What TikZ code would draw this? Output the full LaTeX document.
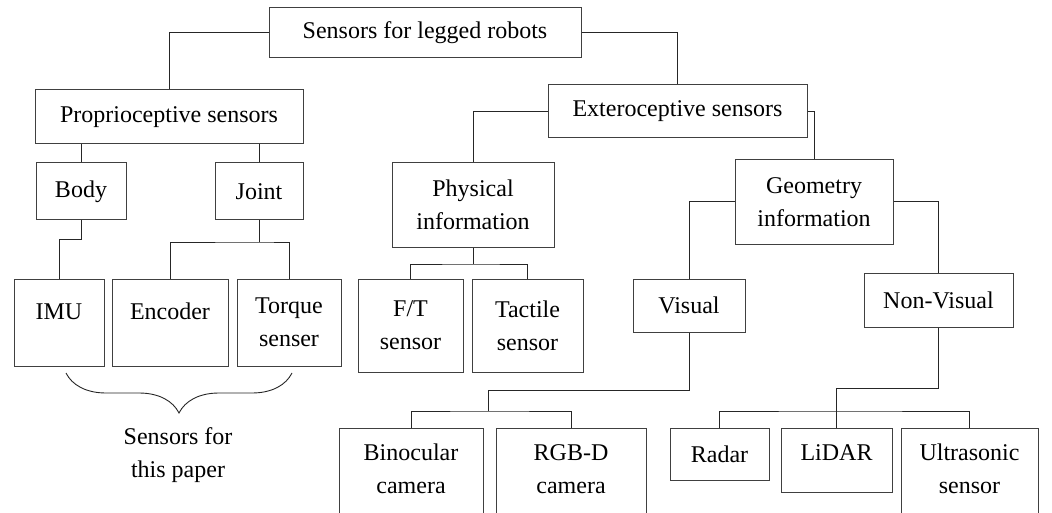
\documentclass[tikz,border=0pt]{standalone}
\usepackage{fontspec}
\setmainfont{Liberation Serif}
\usepackage{tikz}
\usetikzlibrary{decorations.pathreplacing}

\begin{document}
\begin{tikzpicture}[
  x=1pt, y=-1pt,
  font=\fontsize{24pt}{33pt}\selectfont,
  box/.style={draw=black!75, line width=1pt, align=center, inner sep=0pt},
  link/.style={draw=black!85, line width=1pt},
  brace/.style={decorate, decoration={brace, mirror, amplitude=40pt}, draw=black!85, line width=0.9pt}
]
\useasboundingbox (0,0) rectangle (1052,513);

\node[box, minimum width=312pt, minimum height=50pt] (root) at (425,33) {Sensors for legged robots};
\node[box, minimum width=268pt, minimum height=54pt] (prop) at (169,117) {Proprioceptive sensors};
\node[box, minimum width=259pt, minimum height=53pt] (ext) at (677.5,111.5) {Exteroceptive sensors};

\node[box, minimum width=90pt, minimum height=57pt] (body) at (81,191.5) {Body};
\node[box, minimum width=88pt, minimum height=57pt] (joint) at (259,191.5) {Joint};
\node[box, minimum width=162pt, minimum height=84pt] (phys) at (473,205) {Physical\\information};
\node[box, minimum width=158pt, minimum height=84pt] (geom) at (814,202) {Geometry\\information};

\node[box, anchor=north, minimum width=90pt, text height=40pt, text depth=47pt] (imu) at (59,279) {IMU};
\node[box, anchor=north, minimum width=116pt, text height=40pt, text depth=47pt] (enc) at (170,279) {Encoder};
\node[box, minimum width=104pt, minimum height=87pt] (torque) at (289,322.5) {Torque\\senser};
\node[box, minimum width=105pt, minimum height=93pt] (ft) at (410.5,325.5) {F/T\\sensor};
\node[box, minimum width=111pt, minimum height=93pt] (tact) at (527.5,325.5) {Tactile\\sensor};
\node[box, minimum width=112pt, minimum height=53pt] (vis) at (689,305.5) {Visual};
\node[box, minimum width=149pt, minimum height=54pt] (nonvis) at (938.5,300) {Non-Visual};

\node[box, anchor=north, text width=144pt, text height=32pt, text depth=120pt] (bino) at (411,428) {Binocular\\camera};
\node[box, anchor=north, text width=150pt, text height=32pt, text depth=120pt] (rgbd) at (571,428) {RGB-D\\camera};
\node[box, minimum width=99pt, minimum height=52pt] (radar) at (719.5,454) {Radar};
\node[box, anchor=north, minimum width=111pt, text height=32pt, text depth=32pt] (lidar) at (836.5,428) {LiDAR};
\node[box, anchor=north, text width=137pt, text height=32pt, text depth=120pt] (ultra) at (969.5,428) {Ultrasonic\\sensor};

\node[align=center] (note) at (178,455) {Sensors for\\this paper};

\coordinate (jbus) at (259,242);
\coordinate (pbus) at (473,264);
\coordinate (visbus) at (488,411);
\coordinate (nvbus) at (836.5,411);

\draw[link] (root.west) -| (prop.north);
\draw[link] (root.east) -| (ext.north);
\draw[link] (body.north) -- (body.north |- prop.south);
\draw[link] (joint.north) -- (joint.north |- prop.south);
\draw[link] (body.south) -- ++(0,19) -| (imu.north);
\draw[link] (joint.south) -- (jbus);
\draw[link] (enc.north) |- (jbus) -| (torque.north);
\draw[link] (ext.west) -| (phys.north);
\draw[link] (ext.east) -| (geom.north);
\draw[link] (phys.south) -- (pbus);
\draw[link] (ft.north) |- (pbus) -| (tact.north);
\draw[link] (geom.west) -| (vis.north);
\draw[link] (geom.east) -| (nonvis.north);
\draw[link] (vis.south) -- ++(0,58) -| (visbus);
\draw[link] (bino.north) |- (visbus) -| (rgbd.north);
\draw[link] (nonvis.south) -- ++(0,61) -| (lidar.north);
\draw[link] (radar.north) |- (nvbus) -| (ultra.north);

\draw[brace] (66,373) -- (292,373);
\end{tikzpicture}
\end{document}
